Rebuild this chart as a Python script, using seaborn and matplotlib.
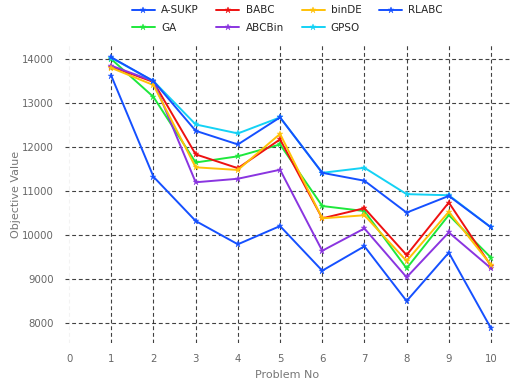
import matplotlib
matplotlib.use("Agg")
import matplotlib.pyplot as plt
import seaborn as sns
import pandas as pd

problems = [1, 2, 3, 4, 5, 6, 7, 8, 9, 10]
a_sukp = [13620, 11325, 10320, 9790, 10205, 9190, 9745, 8500, 9600, 7880]
ga = [14000, 13140, 11650, 11790, 12060, 10660, 10545, 9243, 10455, 9485]
babc = [13830, 13480, 11835, 11520, 12175, 10380, 10610, 9545, 10740, 9300]
abcbin = [13850, 13500, 11200, 11280, 11485, 9643, 10150, 9040, 10060, 9245]
binde = [13800, 13410, 11540, 11480, 12300, 10380, 10450, 9410, 10530, 9320]
gpso = [14030, 13500, 12515, 12310, 12675, 11415, 11530, 10930, 10905, 10175]
rlabc = [14040, 13500, 12370, 12060, 12675, 11415, 11235, 10510, 10890, 10175]

names = ["A-SUKP", "GA", "BABC", "ABCBin", "binDE", "GPSO", "RLABC"]
series = [a_sukp, ga, babc, abcbin, binde, gpso, rlabc]
colors = ["#1550ff", "#1ee83c", "#ee1111", "#8a35e0", "#ffc107", "#14d2f5", "#1550ff"]

rows = []
for n, s in zip(names, series):
    for p, v in zip(problems, s):
        rows.append({"Problem No": p, "Objective Value": v, "Algorithm": n})
df = pd.DataFrame(rows)

sns.set_theme(style="white")
plt.rcParams['font.family'] = ['DejaVu Sans']

fig = plt.figure(figsize=(5.11, 3.85), dpi=100)
ax = fig.add_axes([0.127, 0.109, 0.871, 0.774])

for n, c in zip(names, colors):
    sns.lineplot(data=df[df["Algorithm"] == n], x="Problem No", y="Objective Value",
                 color=c, marker="*", markersize=4.5, markeredgewidth=0.3,
                 markeredgecolor=c, linewidth=1.4, label=n, ax=ax)

ax.set_xlim(-0.1, 10.45)
ax.set_ylim(7545, 14320)
ax.set_xticks(list(range(0, 11)))
ax.set_yticks([8000, 9000, 10000, 11000, 12000, 13000, 14000])
ax.grid(True, linestyle=(0, (3.5, 2.5)), color="#111111", linewidth=0.8, alpha=0.8)
xgl = ax.get_xgridlines()
if xgl:
    xgl[0].set_color("#f0f0f0")
ax.set_axisbelow(True)
for sp in ax.spines.values():
    sp.set_visible(False)
ax.tick_params(axis="both", length=0, labelsize=7.3, labelcolor="#666666", pad=8)
ax.set_xlabel("Problem No", fontsize=8, color="#777777", labelpad=4)
ax.set_ylabel("Objective Value", fontsize=8, color="#777777", labelpad=1)

ax.legend(loc="upper center", bbox_to_anchor=(0.5, 1.165), ncol=4, frameon=False,
          fontsize=7.5, handlelength=2.2, columnspacing=1.7, labelspacing=0.7,
          handletextpad=0.6)

fig.savefig("out.png", dpi=100)
